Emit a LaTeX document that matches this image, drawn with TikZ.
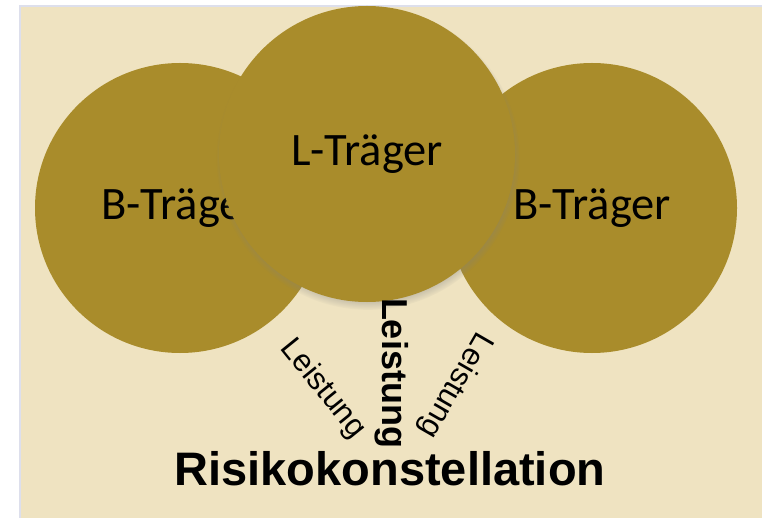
\documentclass[tikz,border=0pt]{standalone}
\usepackage{fontspec}
\setmainfont{Carlito}
\newfontfamily\arialfont{Liberation Sans}
\usetikzlibrary{shadows}
\definecolor{rkbg}{HTML}{EFE3C1}
\definecolor{rkframe}{HTML}{DDDFEC}
\definecolor{rkgold}{HTML}{A98C2B}
\tikzset{
  traeger/.style={circle, fill=rkgold, inner sep=0pt, text=black,
                  font=\fontsize{46.5}{50}\selectfont},
  leist/.style={font=\arialfont\fontsize{31}{34}\selectfont, inner sep=0pt},
  leistbold/.style={font=\arialfont\bfseries\fontsize{36}{40}\selectfont, inner sep=0pt}}
\begin{document}
\begin{tikzpicture}[x=1pt, y=-1pt]
  \useasboundingbox (0,0) rectangle (762,518);
  % hintergrund
  \fill[white] (0,0) rectangle (762,518);
  \fill[rkbg] (20,6) rectangle (762,518);
  \draw[rkframe, line width=2.5pt] (20,518) -- (20,6) -- (762,6);
  % drei kreise
  \node[traeger, minimum size=290pt] (bl) at (180,208) {B-Träger};
  \node[traeger, minimum size=290pt] (br) at (592,208) {B-Träger};
  \node[traeger, minimum size=296pt,
        circular drop shadow={shadow scale=1.025, shadow xshift=1pt, shadow yshift=-4pt, opacity=0.85}]
        (lt) at (367,154) {L-Träger};
  % leistungen
  \node[leist, rotate=-51] (lsl) at (323,389) {Leistung};
  \node[leistbold, rotate=-90] (lsm) at (392,373) {Leistung};
  \node[leist, rotate=-120] (lsr) at (455,385) {Leistung};
  \node[font=\arialfont\bfseries\fontsize{47}{52}\selectfont, anchor=base, inner sep=0pt]
        (rk) at (390,485) {Risikokonstellation};
\end{tikzpicture}
\end{document}
